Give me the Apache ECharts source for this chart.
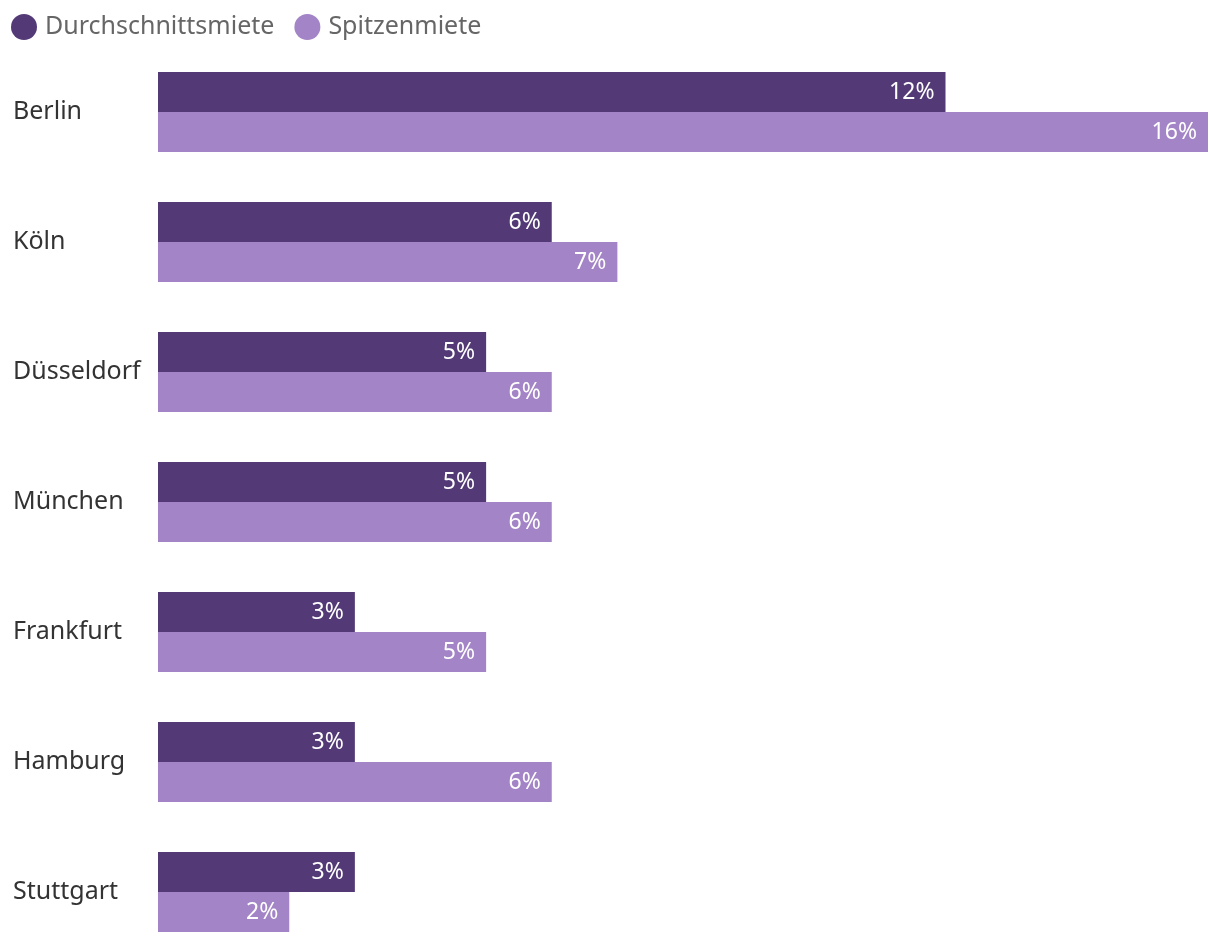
<!DOCTYPE html>
<html><head><meta charset="utf-8">
<script src="https://cdn.jsdelivr.net/npm/echarts@6/dist/echarts.min.js"></script>
<style>html,body{margin:0;padding:0;background:#fff;overflow:hidden}#c{width:1220px;height:960px}</style>
</head><body><div id="c"></div>
<script>
const categories = ['Berlin','Köln','Düsseldorf','München','Frankfurt','Hamburg','Stuttgart'];
const durchschnitt = [12,6,5,5,3,3,3];
const spitze = [16,7,6,6,5,6,2];
const seriesNames = ['Durchschnittsmiete','Spitzenmiete'];
const FONT = '"Noto Sans", sans-serif';
const chart = echarts.init(document.getElementById('c'));
const lbl = {show:true, position:'insideRight', distance:11, color:'#fff', fontSize:23, fontFamily:FONT, formatter:'{c}%'};
chart.setOption({
  animation:false,
  legend:{left:6, top:9, icon:'circle', itemWidth:26, itemHeight:26, itemGap:20,
    textStyle:{color:'#666', fontSize:25, fontFamily:FONT, padding:[0,0,0,3]}, data:seriesNames},
  grid:{left:158, right:12, top:47, height:910, containLabel:false},
  xAxis:{type:'value', min:0, max:16, show:false},
  yAxis:{type:'category', data:categories, inverse:true,
    axisLine:{show:false}, axisTick:{show:false},
    axisLabel:{align:'left', margin:145, color:'#333', fontSize:25, fontFamily:FONT}},
  series:[
    {name:seriesNames[0], type:'bar', data:durchschnitt, barWidth:40, barGap:'0%', itemStyle:{color:'#533a76'}, label:lbl},
    {name:seriesNames[1], type:'bar', data:spitze, barWidth:40, barGap:'0%', itemStyle:{color:'#a384c6'}, label:lbl}
  ]
});
</script></body></html>
